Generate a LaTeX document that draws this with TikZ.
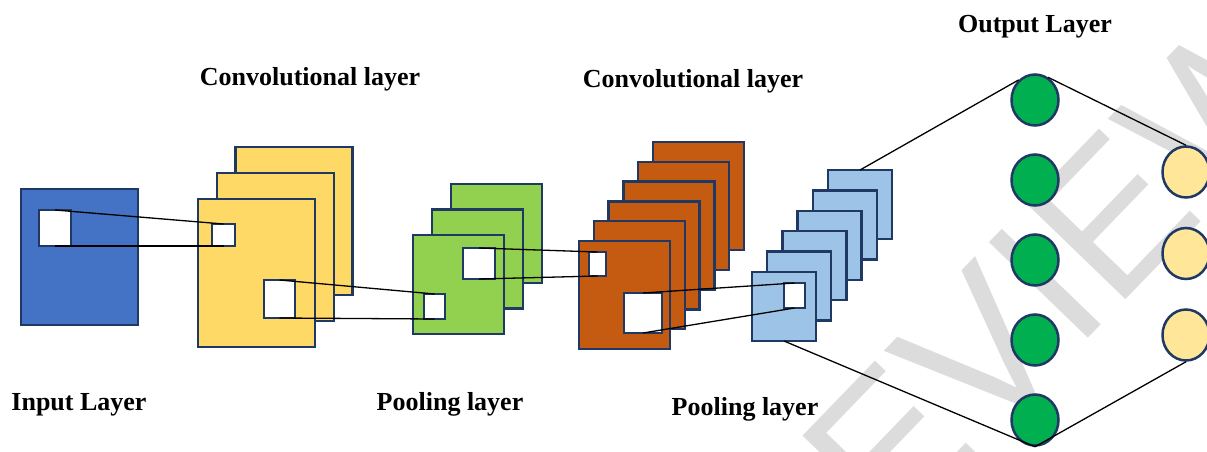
\documentclass[tikz,border=0pt]{standalone}
\usepackage{fontspec}
\setmainfont{Liberation Serif}
\setsansfont{Liberation Sans}
\usetikzlibrary{shapes.geometric}

\definecolor{navy}{HTML}{1F3864}
\definecolor{inblue}{HTML}{4472C4}
\definecolor{convyellow}{HTML}{FFD966}
\definecolor{poolgreen}{HTML}{92D050}
\definecolor{convorange}{HTML}{C55A11}
\definecolor{poolblue}{HTML}{9DC3E6}
\definecolor{hidgreen}{HTML}{00B050}
\definecolor{outyellow}{HTML}{FFE699}
\definecolor{wmgray}{HTML}{DCDCDC}

\begin{document}
\begin{tikzpicture}[x=0.5pt, y=-0.5pt,
    fmap/.style={draw=navy, line width=1.25pt, inner sep=0pt, outer sep=0pt},
    win/.style={fmap, fill=white},
    neuron/.style={ellipse, draw=navy, line width=1.25pt, inner sep=0pt,
      minimum width=23.5pt, minimum height=25.5pt},
    link/.style={line width=0.65pt},
    title/.style={font=\bfseries\fontsize{13}{15}\selectfont, anchor=base}]
    \useasboundingbox (0,0) rectangle (1207,451);

    % Watermark
    \node[rotate=46, text=wmgray, inner sep=0pt,
      font=\sffamily\fontsize{100}{100}\selectfont] (mark) at (968,364) {PREVIEW};

    % Input layer
    \node[fmap, fill=inblue, minimum width=58.5pt, minimum height=68pt] (input) at (79.5,257) {};
    \node[win, minimum width=16pt, minimum height=18pt] (in1) at (55,228) {};

    % Convolutional layer 1
    \foreach \i in {2,1,0}
      \node[fmap, fill=convyellow, minimum width=58.5pt, minimum height=74pt]
        (conv1-\i) at (256.5+18.8*\i, 273-26*\i) {};
    \node[win, minimum width=11.5pt, minimum height=11pt] (c1a) at (223.5,235) {};
    \node[win, minimum width=15.5pt, minimum height=19pt] (c1b) at (279.5,299) {};

    % Pooling layer 1
    \foreach \i in {2,1,0}
      \node[fmap, fill=poolgreen, minimum width=45.5pt, minimum height=49.5pt]
        (pool1-\i) at (458.5+19*\i, 284.5-25.5*\i) {};
    \node[win, minimum width=10.5pt, minimum height=12.5pt] (p1a) at (434.5,306.5) {};
    \node[win, minimum width=16pt, minimum height=15.5pt] (p1b) at (479,263.5) {};

    % Convolutional layer 2
    \foreach \i in {5,4,...,0}
      \node[fmap, fill=convorange, minimum width=45.5pt, minimum height=54pt]
        (conv2-\i) at (624.5+14.8*\i, 295-19.8*\i) {};
    \node[win, minimum width=8.5pt, minimum height=12pt] (c2a) at (597.5,264) {};
    \node[win, minimum width=19pt, minimum height=20pt] (c2b) at (643,313) {};

    % Pooling layer 2
    \foreach \i in {5,4,...,0}
      \node[fmap, fill=poolblue, minimum width=32pt, minimum height=34.5pt]
        (pool2-\i) at (784+15.2*\i, 306.5-20.4*\i) {};
    \node[win, minimum width=10.5pt, minimum height=12.5pt] (p2a) at (794.5,295.5) {};

    % Fully connected and output neurons
    \foreach \i in {1,...,5}
      \node[neuron, fill=hidgreen] (h\i) at (1035, 20+80*\i) {};
    \foreach \i in {1,2,3}
      \node[neuron, fill=outyellow] (o\i) at (1186, 90.5+81.5*\i) {};

    % Receptive field lines
    \draw[link] (in1.north) -- (c1a.north);
    \draw[link] (in1.south) -- (c1a.south);
    \draw[link] (c1b.north) -- (p1a.north);
    \draw[link] (c1b.south) -- (p1a.south);
    \draw[link] (p1b.north) -- (c2a.north);
    \draw[link] (p1b.south) -- (c2a.south);
    \draw[link] (c2b.north) -- (p2a.north);
    \draw[link] (c2b.south) -- (p2a.south);

    % Lines to the neurons
    \draw[link] (pool2-5.north) -- (h1.129);
    \draw[link] (h1.60) -- (o1.north);
    \draw[link] (pool2-0.south) -- (h5.south);
    \draw[link] (h5.south) -- (o3.south);

    % Labels
    \node[title] (inlbl) at (79,410) {Input Layer};
    \node[title] (conv1lbl) at (310,85) {Convolutional layer};
    \node[title] (pool1lbl) at (450,410) {Pooling layer};
    \node[title] (conv2lbl) at (693,87) {Convolutional layer};
    \node[title] (pool2lbl) at (745,415) {Pooling layer};
    \node[title] (outlbl) at (1035,32) {Output Layer};
  \end{tikzpicture}
\end{document}
